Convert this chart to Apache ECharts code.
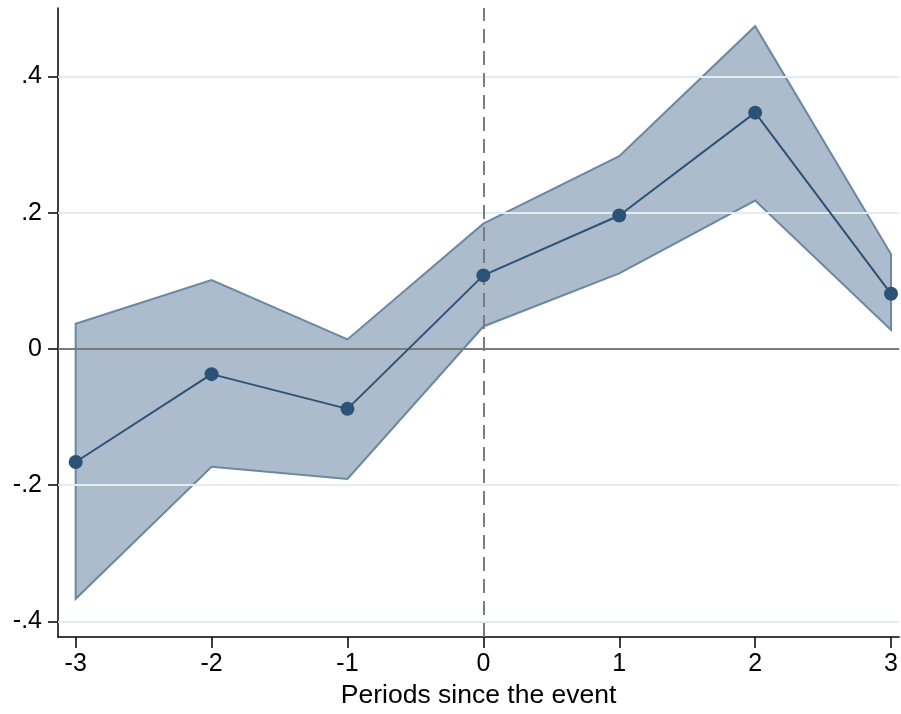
<!DOCTYPE html>
<html>
<head>
<meta charset="utf-8">
<script src="https://cdn.jsdelivr.net/npm/echarts@6/dist/echarts.min.js"></script>
<style>
html,body{margin:0;padding:0;background:#fff;}
#chart{width:901px;height:714px;}
</style>
</head>
<body>
<div id="chart"></div>
<script>
const periods = [-3, -2, -1, 0, 1, 2, 3];
const coef    = [-0.166, -0.037, -0.088, 0.108, 0.196, 0.347, 0.081];
const ciUpper = [0.037, 0.101, 0.014, 0.184, 0.283, 0.474, 0.139];
const ciLower = [-0.367, -0.173, -0.191, 0.033, 0.111, 0.218, 0.028];
const yTicks = [-0.4, -0.2, 0, 0.2, 0.4];
const yTickLabels = ['-.4', '-.2', '0', '.2', '.4'];
const xTicks = [-3, -2, -1, 0, 1, 2, 3];
const xTickLabels = ['-3', '-2', '-1', '0', '1', '2', '3'];
const xTitle = 'Periods since the event';

const FONT = '"Liberation Sans", Arial, sans-serif';
const chart = echarts.init(document.getElementById('chart'), null, {renderer: 'canvas'});

const bandData = periods.map((p, i) => [p, ciLower[i], ciUpper[i]]);

chart.setOption({
  animation: false,
  backgroundColor: '#ffffff',
  grid: {left: 58, right: 1, top: 8, bottom: 69, containLabel: false},
  xAxis: {
    type: 'value', min: -3.13, max: 3.06,
    name: xTitle, nameLocation: 'middle', nameGap: 41,
    nameTextStyle: {fontFamily: FONT, fontSize: 26.5, color: '#000'},
    axisLine: {show: true, onZero: false, lineStyle: {color: '#000', width: 1.5}},
    axisTick: {show: true, length: 11, customValues: xTicks, lineStyle: {color: '#000', width: 1.5}},
    axisLabel: {customValues: xTicks, margin: 15, fontFamily: FONT, fontSize: 25, color: '#000',
      formatter: v => xTickLabels[xTicks.indexOf(Math.round(v))]},
    splitLine: {show: false}
  },
  yAxis: {
    type: 'value', min: -0.4232, max: 0.5007,
    axisLine: {show: true, onZero: false, lineStyle: {color: '#000', width: 1.5}},
    axisTick: {show: true, length: 10, customValues: yTicks, lineStyle: {color: '#000', width: 1.5}},
    axisLabel: {customValues: yTicks, margin: 16, fontFamily: FONT, fontSize: 25, color: '#000',
      formatter: v => { const i = yTicks.findIndex(t => Math.abs(t - v) < 1e-6); return i >= 0 ? yTickLabels[i] : ''; }},
    splitLine: {show: false}
  },
  series: [
    {
      type: 'line', data: [], z: 0, silent: true,
      markLine: {
        silent: true, symbol: 'none', label: {show: false},
        lineStyle: {color: '#e3eded', width: 2, type: 'solid'},
        data: yTicks.filter(t => t !== 0).map(t => ({yAxis: t}))
      }
    },
    {
      type: 'custom', z: 1, silent: true,
      data: bandData,
      renderItem: function (params, api) {
        if (params.dataIndex !== 0) return null;
        const pts = [];
        for (let i = 0; i < bandData.length; i++) pts.push(api.coord([bandData[i][0], bandData[i][2]]));
        for (let i = bandData.length - 1; i >= 0; i--) pts.push(api.coord([bandData[i][0], bandData[i][1]]));
        return {
          type: 'polygon',
          shape: {points: pts},
          style: {fill: 'rgba(140,162,186,0.72)', stroke: '#6b88a2', lineWidth: 2}
        };
      }
    },
    {
      type: 'line', data: [], z: 3, silent: true,
      markLine: {
        silent: true, symbol: 'none', label: {show: false},
        data: [
          {yAxis: 0, lineStyle: {color: '#7a7a7a', width: 2, type: 'solid'}},
          {xAxis: 0, lineStyle: {color: '#7c7c7c', width: 2, type: [14, 8]}}
        ]
      }
    },
    {
      type: 'line', z: 5,
      data: periods.map((p, i) => [p, coef[i]]),
      symbol: 'circle', symbolSize: 14, showSymbol: true,
      lineStyle: {color: '#2d5278', width: 2},
      itemStyle: {color: '#2d5278'}
    }
  ]
});
</script>
</body>
</html>
